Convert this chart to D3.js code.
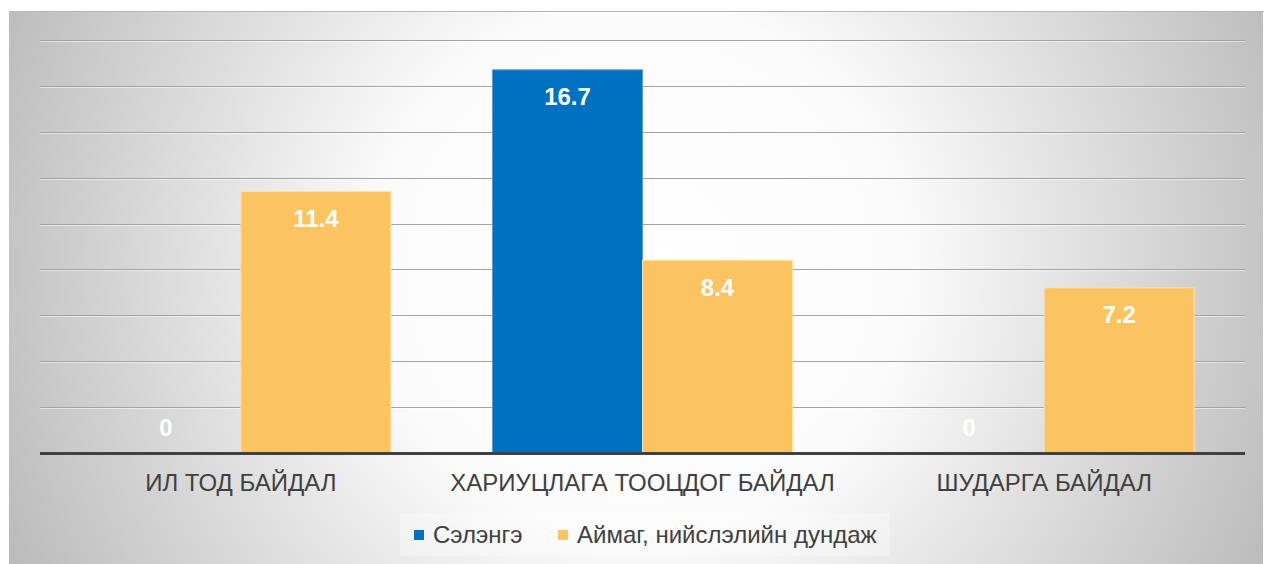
<!DOCTYPE html>
<html>
<head>
<meta charset="utf-8">
<script src="https://cdn.jsdelivr.net/npm/d3@7/dist/d3.min.js"></script>
<style>
  html, body { margin: 0; padding: 0; background: #fff; }
  svg { display: block; font-family: "Liberation Sans", Arial, sans-serif; }
</style>
</head>
<body>
<svg id="chart" width="1264" height="564"></svg>
<script>
const categories = ["ИЛ ТОД БАЙДАЛ", "ХАРИУЦЛАГА ТООЦДОГ БАЙДАЛ", "ШУДАРГА БАЙДАЛ"];
const seriesNames = ["Сэлэнгэ", "Аймаг, нийслэлийн дундаж"];
const selenge = [0, 16.7, 0];
const average = [11.4, 8.4, 7.2];
const yTicks = [0, 2, 4, 6, 8, 10, 12, 14, 16, 18];
const colors = ["#0070C0", "#FCC461"];

(function () {
const svg = d3.select("#chart");
const W = 1264, H = 564;

// background gradient
const defs = svg.append("defs");
const rg = defs.append("radialGradient").attr("id", "bg")
  .attr("gradientUnits", "userSpaceOnUse")
  .attr("cx", 640).attr("cy", 270).attr("r", 700)
  .attr("fx", 640).attr("fy", 270);
rg.append("stop").attr("offset", "0%").attr("stop-color", "#ffffff");
rg.append("stop").attr("offset", "38%").attr("stop-color", "#fbfbfb");
rg.append("stop").attr("offset", "100%").attr("stop-color", "#bababa");

svg.append("rect").attr("x", 9).attr("y", 11).attr("width", W - 10).attr("height", H - 11)
  .attr("fill", "url(#bg)");
svg.append("line").attr("x1", 9).attr("x2", W).attr("y1", 11.5).attr("y2", 11.5)
  .attr("stroke", "#b8b8b8").attr("stroke-width", 1);

const pLeft = 40, pRight = 1245, pTop = 40, pBottom = 453;
const x0 = d3.scaleBand().domain(categories).range([pLeft, pRight]).paddingInner(0).paddingOuter(0);
const inner = 300 / 401.67;
const x1 = d3.scaleBand().domain(seriesNames).range([0, x0.bandwidth() * inner]);
const y = d3.scaleLinear().domain([0, 18]).range([pBottom, pTop]);

// gridlines
const grid = svg.append("g");
yTicks.filter(t => t > 0).forEach(t => {
  grid.append("line").attr("x1", pLeft).attr("x2", pRight)
    .attr("y1", Math.round(y(t)) + 0.5).attr("y2", Math.round(y(t)) + 0.5)
    .attr("stroke", "#a3a3a3").attr("stroke-width", 1);
  grid.append("line").attr("x1", pLeft).attr("x2", pRight)
    .attr("y1", Math.round(y(t)) + 1.5).attr("y2", Math.round(y(t)) + 1.5)
    .attr("stroke", "#ffffff").attr("stroke-opacity", 0.5).attr("stroke-width", 1);
});

const off = (x0.bandwidth() - x0.bandwidth() * inner) / 2;
const data = categories.map((c, i) => ({ cat: c, vals: [selenge[i], average[i]] }));

const gCat = svg.append("g").selectAll("g").data(data).join("g")
  .attr("transform", d => `translate(${x0(d.cat) + off},0)`);

gCat.selectAll("rect").data(d => d.vals.map((v, j) => ({ v, s: seriesNames[j], j })))
  .join("rect")
  .attr("x", d => x1(d.s))
  .attr("y", d => y(d.v))
  .attr("width", x1.bandwidth())
  .attr("height", d => pBottom - y(d.v))
  .attr("fill", d => colors[d.j])
  .attr("stroke", d => d.j === 0 ? "#5a9ad6" : "#fde2b0")
  .attr("stroke-width", d => d.v > 0 ? 1 : 0);

gCat.selectAll("text").data(d => d.vals.map((v, j) => ({ v, s: seriesNames[j], j })))
  .join("text")
  .attr("x", d => x1(d.s) + x1.bandwidth() / 2)
  .attr("y", d => d.v > 0 ? y(d.v) + 27 : pBottom - 25)
  .attr("dy", "0.35em")
  .attr("text-anchor", "middle")
  .attr("fill", "#ffffff")
  .attr("font-weight", "bold")
  .attr("font-size", 24)
  .text(d => d3.format("")(d.v));

// baseline axis
svg.append("line").attr("x1", pLeft).attr("x2", pRight).attr("y1", pBottom + 0.5).attr("y2", pBottom + 0.5)
  .attr("stroke", "#404040").attr("stroke-width", 3);

// category labels
const xAxis = d3.axisBottom(x0).tickSize(0).tickPadding(0);
const ax = svg.append("g").attr("transform", `translate(0,${pBottom})`).call(xAxis);
ax.select(".domain").remove();
ax.selectAll("text").attr("y", 30).attr("dy", "0.35em")
  .attr("font-size", 24).attr("fill", "#404040")
  .attr("font-family", "Liberation Sans, Arial, sans-serif");

// legend
const lg = svg.append("g");
lg.append("rect").attr("x", 400).attr("y", 513).attr("width", 490).attr("height", 43)
  .attr("fill", "#ffffff").attr("fill-opacity", 0.3);
const legendX = [414, 558];
seriesNames.forEach((n, i) => {
  lg.append("rect").attr("x", legendX[i]).attr("y", 530).attr("width", 10).attr("height", 10)
    .attr("fill", colors[i]);
  lg.append("text").attr("x", legendX[i] + 19).attr("y", 535).attr("dy", "0.35em")
    .attr("font-size", 24).attr("fill", "#404040").text(n);
});
})();
</script>
</body>
</html>
